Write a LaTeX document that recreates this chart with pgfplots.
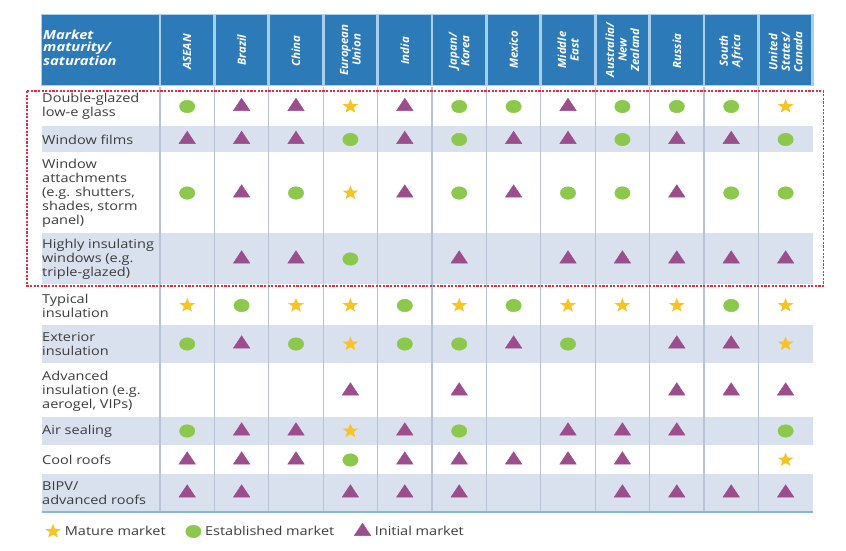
\documentclass[border=0pt]{standalone}
\usepackage{pgfplots}
\pgfplotsset{compat=1.18}
\usepackage{fontspec}
\setmainfont{Open Sans}[FakeStretch=1.18]

\definecolor{hdr}{HTML}{2C7AB7}
\definecolor{hdrgap}{HTML}{A9CFEC}
\definecolor{band}{HTML}{DAE1EE}
\definecolor{vline}{HTML}{B9C3D6}
\definecolor{bline}{HTML}{86B6DD}
\definecolor{mature}{HTML}{F7C325}
\definecolor{estab}{HTML}{8CC84B}
\definecolor{initial}{HTML}{9B4D8C}
\definecolor{redbox}{HTML}{E0303F}
\definecolor{txt}{HTML}{3C3C3C}

\tikzset{
  lbl/.style={anchor=west, align=left, text=txt, inner sep=0pt,
    font=\fontsize{12.3}{14}\selectfont},
  hd/.style={rotate=90, xscale=0.86, anchor=center, align=center, text=white,
    inner sep=0pt, font=\fontsize{11.3}{12.5}\selectfont\bfseries\itshape},
}

% filled five-pointed star
\pgfdeclareplotmark{fstar}{%
  \pgfpathmoveto{\pgfpointpolar{90}{\pgfplotmarksize}}%
  \pgfpathlineto{\pgfpointpolar{126}{0.42\pgfplotmarksize}}%
  \pgfpathlineto{\pgfpointpolar{162}{\pgfplotmarksize}}%
  \pgfpathlineto{\pgfpointpolar{198}{0.42\pgfplotmarksize}}%
  \pgfpathlineto{\pgfpointpolar{234}{\pgfplotmarksize}}%
  \pgfpathlineto{\pgfpointpolar{270}{0.42\pgfplotmarksize}}%
  \pgfpathlineto{\pgfpointpolar{306}{\pgfplotmarksize}}%
  \pgfpathlineto{\pgfpointpolar{342}{0.42\pgfplotmarksize}}%
  \pgfpathlineto{\pgfpointpolar{18}{\pgfplotmarksize}}%
  \pgfpathlineto{\pgfpointpolar{54}{0.42\pgfplotmarksize}}%
  \pgfpathclose\pgfusepathqfill}

\begin{document}
\begin{tikzpicture}
\begin{axis}[
  scale only axis, width=846pt, height=550pt,
  xmin=-3.441, xmax=12.110, ymin=0, ymax=550, y dir=reverse,
  hide axis, clip=false,
  legend columns=3,
  legend style={at={(axis cs:-2.669,531)}, anchor=west, draw=none, fill=none,
    font=\fontsize{12.3}{13}\selectfont, text=txt,
    /tikz/every odd column/.append style={column sep=2pt},
    /tikz/every even column/.append style={column sep=18pt}},
]
\path (rel axis cs:0,0) rectangle (rel axis cs:1,1);

% header
\fill[hdrgap] (axis cs:-2.688,14) rectangle (axis cs:11.526,86);
\fill[hdr] (axis cs:-2.669,15) rectangle (axis cs:-0.525,85);
\fill[hdr] (axis cs:-0.475,15) rectangle (axis cs:0.475,85);
\fill[hdr] (axis cs:0.525,15) rectangle (axis cs:1.475,85);
\fill[hdr] (axis cs:1.525,15) rectangle (axis cs:2.475,85);
\fill[hdr] (axis cs:2.525,15) rectangle (axis cs:3.475,85);
\fill[hdr] (axis cs:3.525,15) rectangle (axis cs:4.475,85);
\fill[hdr] (axis cs:4.525,15) rectangle (axis cs:5.475,85);
\fill[hdr] (axis cs:5.525,15) rectangle (axis cs:6.475,85);
\fill[hdr] (axis cs:6.525,15) rectangle (axis cs:7.475,85);
\fill[hdr] (axis cs:7.525,15) rectangle (axis cs:8.475,85);
\fill[hdr] (axis cs:8.525,15) rectangle (axis cs:9.475,85);
\fill[hdr] (axis cs:9.525,15) rectangle (axis cs:10.475,85);
\fill[hdr] (axis cs:10.525,15) rectangle (axis cs:11.475,85);

\node[anchor=north west, align=left, text=white, inner sep=0pt,
  font=\fontsize{12.5}{12}\selectfont\bfseries\itshape]
  at (axis cs:-2.65,30) {Market\\maturity/\\saturation};
\node[hd] at (axis cs:0,52) {ASEAN};
\node[hd] at (axis cs:1,50) {Brazil};
\node[hd] at (axis cs:2,51) {China};
\node[hd] at (axis cs:3,50) {European\\Union};
\node[hd] at (axis cs:4,51) {India};
\node[hd] at (axis cs:5,51) {Japan/\\Korea};
\node[hd] at (axis cs:6,50) {Mexico};
\node[hd] at (axis cs:7,50) {Middle\\East};
\node[hd] at (axis cs:8,50) {Australia/\\New\\Zealand};
\node[hd] at (axis cs:9,51) {Russia};
\node[hd] at (axis cs:10,51) {South\\Africa};
\node[hd] at (axis cs:11,52) {United\\States/\\Canada};

% shaded rows
\fill[band] (axis cs:-2.669,126) rectangle (axis cs:11.507,152);
\fill[band] (axis cs:-2.669,233) rectangle (axis cs:11.507,284);
\fill[band] (axis cs:-2.669,325) rectangle (axis cs:11.507,363);
\fill[band] (axis cs:-2.669,417) rectangle (axis cs:11.507,445);
\fill[band] (axis cs:-2.669,474) rectangle (axis cs:11.507,512);

% column separators
\draw[vline, line width=1.3pt]
  (axis cs:-0.5,87) -- (axis cs:-0.5,512)
  (axis cs:0.5,87) -- (axis cs:0.5,512)
  (axis cs:1.5,87) -- (axis cs:1.5,512)
  (axis cs:2.5,87) -- (axis cs:2.5,512)
  (axis cs:3.5,87) -- (axis cs:3.5,512)
  (axis cs:4.5,87) -- (axis cs:4.5,512)
  (axis cs:5.5,87) -- (axis cs:5.5,512)
  (axis cs:6.5,87) -- (axis cs:6.5,512)
  (axis cs:7.5,87) -- (axis cs:7.5,512)
  (axis cs:8.5,87) -- (axis cs:8.5,512)
  (axis cs:9.5,87) -- (axis cs:9.5,512)
  (axis cs:10.5,87) -- (axis cs:10.5,512);
\draw[bline, line width=1.6pt] (axis cs:-2.669,512) -- (axis cs:11.507,512);

% row labels
\node[lbl] at (axis cs:-2.669,106.5) {Double-glazed\\low-e glass};
\node[lbl] at (axis cs:-2.669,139.5) {Window films};
\node[lbl] at (axis cs:-2.669,193) {Window\\attachments\\(e.g. shutters,\\shades, storm\\panel)};
\node[lbl] at (axis cs:-2.669,259) {Highly insulating\\windows (e.g.\\triple-glazed)};
\node[lbl] at (axis cs:-2.669,305.5) {Typical\\insulation};
\node[lbl] at (axis cs:-2.669,344) {Exterior\\insulation};
\node[lbl] at (axis cs:-2.669,391) {Advanced\\insulation (e.g.\\aerogel, VIPs)};
\node[lbl] at (axis cs:-2.669,431) {Air sealing};
\node[lbl] at (axis cs:-2.669,460) {Cool roofs};
\node[lbl] at (axis cs:-2.669,493) {BIPV/\\advanced roofs};

% mature market
\addplot[only marks, mark=fstar, mark size=7.5pt, color=mature,
  mark options={xscale=1.1}] coordinates {
  (3,106.5)(11,106.5)
  (3,193)
  (0,305.5)(2,305.5)(3,305.5)(5,305.5)(7,305.5)(8,305.5)(9,305.5)(11,305.5)
  (3,344)(11,344)
  (3,431)
  (11,460)};
\addlegendentry{Mature market}
% established market
\addplot[only marks, mark=*, mark size=6.3pt, color=estab, draw=none,
  mark options={xscale=1.22, draw=none}] coordinates {
  (0,106.5)(5,106.5)(6,106.5)(8,106.5)(9,106.5)(10,106.5)
  (3,139.5)(5,139.5)(8,139.5)(11,139.5)
  (0,193)(2,193)(5,193)(7,193)(8,193)(10,193)(11,193)
  (3,259)
  (1,305.5)(4,305.5)(6,305.5)(10,305.5)
  (0,344)(2,344)(4,344)(5,344)(7,344)
  (0,431)(5,431)(11,431)
  (3,460)};
\addlegendentry{Established market}
% initial market
\addplot[only marks, mark=triangle*, mark size=8.3pt, color=initial,
  mark options={xscale=1.15, draw=none}] coordinates {
  (1,106.5)(2,106.5)(4,106.5)(7,106.5)
  (0,139.5)(1,139.5)(2,139.5)(4,139.5)(6,139.5)(7,139.5)(9,139.5)(10,139.5)
  (1,193)(4,193)(6,193)(9,193)
  (1,259)(2,259)(5,259)(7,259)(8,259)(9,259)(10,259)(11,259)
  (1,344)(6,344)(9,344)(10,344)
  (3,391)(5,391)(9,391)(10,391)(11,391)
  (1,431)(2,431)(4,431)(7,431)(8,431)(9,431)
  (0,460)(1,460)(2,460)(4,460)(5,460)(6,460)(7,460)(8,460)
  (0,493)(1,493)(3,493)(4,493)(5,493)(8,493)(9,493)(10,493)(11,493)};
\addlegendentry{Initial market}

% highlighted window group
\draw[redbox, line width=1.2pt, dash pattern=on 2.2pt off 1.4pt]
  (axis cs:-2.945,91) rectangle (axis cs:11.691,286);
\end{axis}
\end{tikzpicture}
\end{document}
